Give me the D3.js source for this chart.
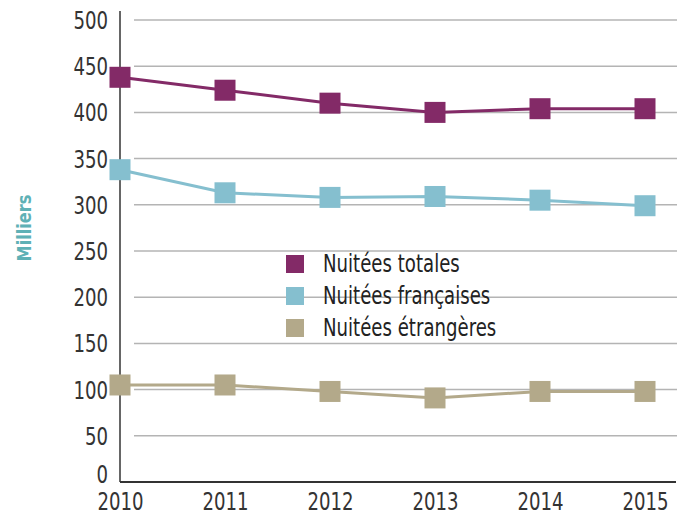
<!DOCTYPE html>
<html>
<head>
<meta charset="utf-8">
<script src="https://cdn.jsdelivr.net/npm/d3@7"></script>
<style>
  body { margin: 0; background: #fff; }
  text { font-family: "Liberation Sans Narrow", "DejaVu Sans Condensed", "DejaVu Sans", sans-serif; }
</style>
</head>
<body>
<div id="chart"></div>
<script>
// data (milliers)
var years = [2010, 2011, 2012, 2013, 2014, 2015];
var totales = [438, 424, 410, 400, 404, 404];
var francaises = [338, 313, 308, 309, 305, 299];
var etrangeres = [105, 105, 98, 91, 98, 98];
var yTicks = [0, 50, 100, 150, 200, 250, 300, 350, 400, 450, 500];

var series = [
  {name: "Nuitées totales", values: totales, color: "#832a67"},
  {name: "Nuitées françaises", values: francaises, color: "#85bfcf"},
  {name: "Nuitées étrangères", values: etrangeres, color: "#b3a98a"}
];

var W = 689, H = 516;
var sx = 0.84; // squeeze text horizontally, the original uses a condensed face

var svg = d3.select("#chart").append("svg")
    .attr("width", W)
    .attr("height", H);

// scales
var x = d3.scaleLinear().domain([2010, 2015]).range([120, 645]);
var y = d3.scaleLinear().domain([0, 500]).range([482, 20]);

// gridlines
svg.append("g")
  .selectAll("line")
  .data(yTicks.filter(function(d) { return d > 0; }))
  .enter().append("line")
    .attr("x1", 134).attr("x2", 677)
    .attr("y1", function(d) { return y(d); })
    .attr("y2", function(d) { return y(d); })
    .attr("stroke", "#b4b4b4")
    .attr("stroke-width", 1.5);

// y axis
var yAxis = svg.append("g")
    .attr("transform", "translate(120,0)")
    .call(d3.axisLeft(y).tickValues(yTicks).tickSize(0).tickPadding(12));
yAxis.select(".domain").remove();
yAxis.selectAll("text")
    .attr("font-family", null)
    .attr("font-size", 24)
    .attr("fill", "#333")
    .attr("x", -12 / sx)
    .attr("transform", "scale(" + sx + ",1)")
    .attr("dy", function(d) { return d === 0 ? "0.02em" : "0.35em"; });

svg.append("line")
    .attr("x1", 120).attr("x2", 120)
    .attr("y1", 11).attr("y2", 482)
    .attr("stroke", "#666").attr("stroke-width", 2);

// x axis
var xAxis = svg.append("g")
    .attr("transform", "translate(0,482)")
    .call(d3.axisBottom(x).tickValues(years).tickFormat(d3.format("d")).tickSize(0).tickPadding(9));
xAxis.select(".domain").remove();
xAxis.selectAll("text")
    .attr("font-family", null)
    .attr("font-size", 24)
    .attr("fill", "#333")
    .attr("transform", "scale(" + sx + ",1)")
    .attr("dy", "0.8em");

svg.append("line")
    .attr("x1", 120).attr("x2", 676)
    .attr("y1", 482).attr("y2", 482)
    .attr("stroke", "#333").attr("stroke-width", 2);

// y title
svg.append("text")
    .attr("transform", "translate(31,228) rotate(-90) scale(0.9,1)")
    .attr("text-anchor", "middle")
    .attr("font-size", 20)
    .attr("font-weight", "bold")
    .attr("fill", "#5fb1b6")
    .text("Milliers");

// lines and markers
var line = d3.line()
    .x(function(d, i) { return x(years[i]); })
    .y(function(d) { return y(d); });

var g = svg.selectAll(".serie")
  .data(series)
  .enter().append("g")
    .attr("class", "serie");

g.append("path")
    .attr("fill", "none")
    .attr("stroke", function(d) { return d.color; })
    .attr("stroke-width", 3)
    .attr("d", function(d) { return line(d.values); });

var ms = 21;
g.each(function(s) {
  d3.select(this).selectAll("rect")
    .data(s.values)
    .enter().append("rect")
      .attr("x", function(d, i) { return x(years[i]) - ms / 2; })
      .attr("y", function(d) { return y(d) - ms / 2; })
      .attr("width", ms)
      .attr("height", ms)
      .attr("fill", s.color);
});

// legend
var legend = svg.append("g")
    .attr("transform", "translate(286,255)");
var li = legend.selectAll("g")
  .data(series)
  .enter().append("g")
    .attr("transform", function(d, i) { return "translate(0," + (i * 32) + ")"; });
li.append("rect")
    .attr("width", 18).attr("height", 18)
    .attr("fill", function(d) { return d.color; });
li.append("text")
    .attr("x", 37 / sx)
    .attr("y", 9)
    .attr("dy", "0.35em")
    .attr("transform", "scale(" + sx + ",1)")
    .attr("font-size", 24)
    .attr("fill", "#222")
    .text(function(d) { return d.name; });
</script>
</body>
</html>
